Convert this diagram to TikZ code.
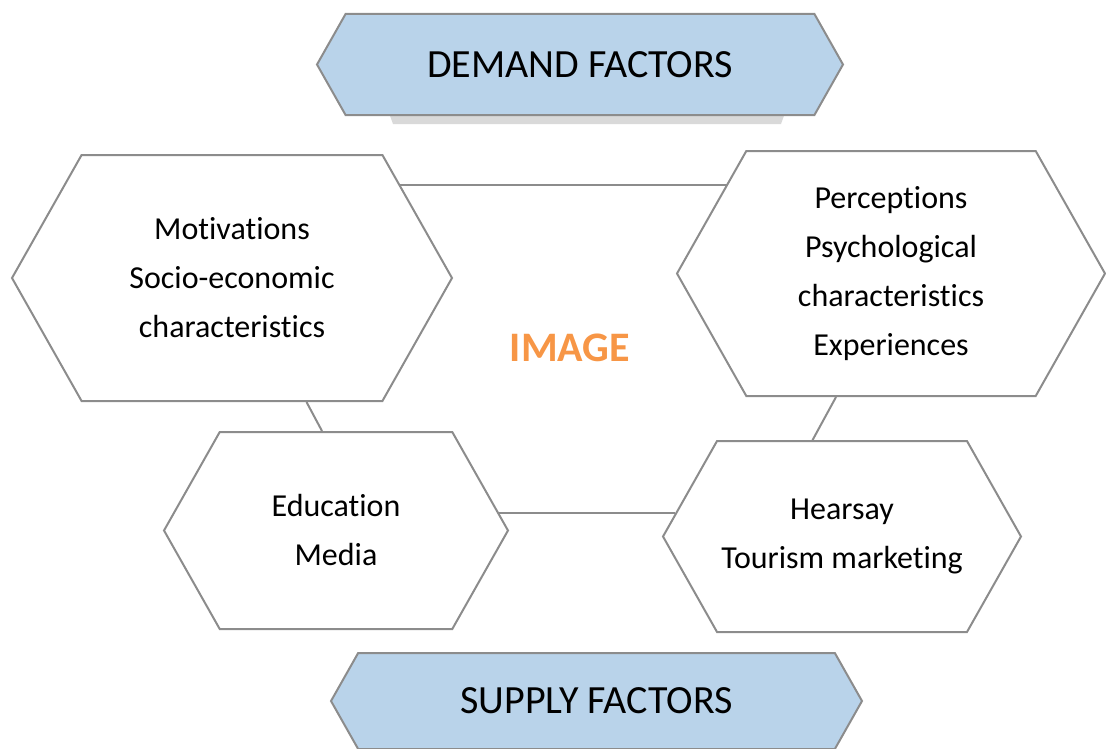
\documentclass[tikz,border=0pt]{standalone}
\usepackage{fontspec}
\setmainfont[RawFeature={-liga;-calt;-clig;-dlig}]{Carlito}
\usepackage{tikz}
\usetikzlibrary{shapes.symbols, positioning}
\definecolor{bannerblue}{RGB}{185,211,234}
\definecolor{edgegray}{RGB}{140,140,140}
\definecolor{shadowgray}{RGB}{217,217,217}
\definecolor{imageorange}{RGB}{247,150,70}

\begin{document}
\begin{tikzpicture}[x=0.75pt, y=-0.75pt,
    hexbox/.style={signal, signal to=east and west, signal pointer angle=121,
        draw=edgegray, line width=1.5pt, fill=white, align=center, inner sep=0pt,
        font=\fontsize{24}{36.75}\selectfont},
    banner/.style={hexbox, fill=bannerblue, font=\fontsize{30}{34}\selectfont},
    link/.style={draw=edgegray, line width=1.5pt}]
		\useasboundingbox (0,0) rectangle (1106,749);
		% shadow under the top banner
		\fill[shadowgray] (389,113) -- (785,113) -- (781,124) -- (393,124) -- cycle;
		\node[banner, minimum width=394.5pt, minimum height=75.75pt] (demand) at (580,64.5) {DEMAND FACTORS};
		\node[banner, minimum width=398.25pt, minimum height=72pt] (supply) at (596.5,701) {SUPPLY FACTORS};
		\node[hexbox, minimum width=330pt, minimum height=184.5pt] (motiv) at (232,278) {Motivations\\Socio-economic\\characteristics};
		\node[hexbox, minimum width=321pt, minimum height=183.75pt] (percep) at (891,273.5) {Perceptions\\Psychological\\characteristics\\Experiences};
		\node[hexbox, minimum width=258pt, minimum height=147.75pt] (educ) at (336,530.5) {Education\\Media};
		\node[hexbox, minimum width=268.5pt, minimum height=143.25pt] (hears) at (842,536.5) {Hearsay\\Tourism marketing};
		\node[font=\fontsize{31.5}{36}\selectfont\bfseries, text=imageorange] (image) at (570,348) {IMAGE};
		\draw[link] (motiv.29) -- (motiv.29 -| percep.151);
		\draw[link] (motiv.-59) -- (educ.98);
		\draw[link] (percep.-114) -- (hears.107);
		\draw[link] (educ.6) -- (educ.6 -| hears.172);
		\end{tikzpicture}
\end{document}
